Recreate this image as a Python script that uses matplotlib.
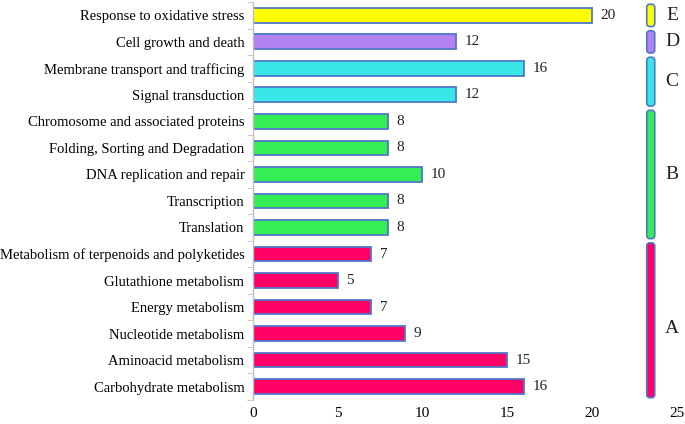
import matplotlib
matplotlib.use("Agg")
import matplotlib.pyplot as plt
from matplotlib.patches import FancyBboxPatch
from matplotlib.ticker import FixedLocator

categories = [
    "Carbohydrate metabolism",
    "Aminoacid metabolism",
    "Nucleotide metabolism",
    "Energy metabolism",
    "Glutathione metabolism",
    "Metabolism of terpenoids and polyketides",
    "Translation",
    "Transcription",
    "DNA replication and repair",
    "Folding, Sorting and Degradation",
    "Chromosome and associated proteins",
    "Signal transduction",
    "Membrane transport and trafficing",
    "Cell growth and death",
    "Response to oxidative stress",
]
values = [16, 15, 9, 7, 5, 7, 8, 8, 10, 8, 8, 12, 16, 12, 20]
groups = ["A"] * 6 + ["B"] * 5 + ["C"] * 2 + ["D"] + ["E"]
group_names = ["A", "B", "C", "D", "E"]
group_colors = {"A": "#FF0066", "B": "#33EE55", "C": "#38E6E6", "D": "#B283F0", "E": "#FFFF00"}
edge_color = "#4F78C8"
x_ticks = [0, 5, 10, 15, 20, 25]

plt.rcParams["font.family"] = ["Liberation Serif", "DejaVu Serif"]

fig = plt.figure(figsize=(6.85, 4.24), dpi=100)
ax = fig.add_axes([0.369, 0.057, 0.619, 0.938])

ypos = list(range(len(categories)))
colors = [group_colors[g] for g in groups]
ax.barh(ypos, values, height=0.56, color=colors, edgecolor=edge_color, linewidth=1.3, zorder=2)

for y, v in zip(ypos, values):
    ax.annotate(str(v), (v, y), xytext=(6, 0), textcoords="offset points",
                ha="left", va="center", fontsize=11, color="#222222")

ax.set_xlim(0, 25)
ax.set_ylim(-0.5, len(categories) - 0.5)
ax.set_xticks(x_ticks)
ax.set_xticklabels([str(t) for t in x_ticks], fontsize=11)
ax.set_yticks(ypos)
ax.set_yticklabels(categories, fontsize=10.5)
ax.yaxis.set_minor_locator(FixedLocator([i - 0.5 for i in range(len(categories) + 1)]))
ax.tick_params(axis="y", which="major", length=0, pad=6)
ax.tick_params(axis="y", which="minor", length=4, color="#BFBFBF", direction="out")
ax.tick_params(axis="x", length=0, pad=5)
for s in ["top", "right", "bottom"]:
    ax.spines[s].set_visible(False)
ax.spines["left"].set_color("#BFBFBF")
ax.spines["left"].set_linewidth(1.0)

# group brackets
gap = 0.08
xl, xr = 23.23, 23.70
for g in group_names:
    idx = [i for i, gg in enumerate(groups) if gg == g]
    lo, hi = min(idx) - 0.5 + gap, max(idx) + 0.5 - gap
    box = FancyBboxPatch((xl, lo), xr - xl, hi - lo,
                         boxstyle="round,pad=0,rounding_size=0.17",
                         mutation_aspect=0.64,
                         facecolor=group_colors[g], edgecolor=edge_color,
                         linewidth=1.2, clip_on=False, zorder=3)
    ax.add_patch(box)
    ymid = (lo + hi) / 2
    if g == "A":
        ymid = lo + (hi - lo) * 0.45
    ax.text(24.72, ymid, g, ha="center", va="center", fontsize=14,
            color="#222222", clip_on=False)

fig.savefig("out.png", dpi=100)
